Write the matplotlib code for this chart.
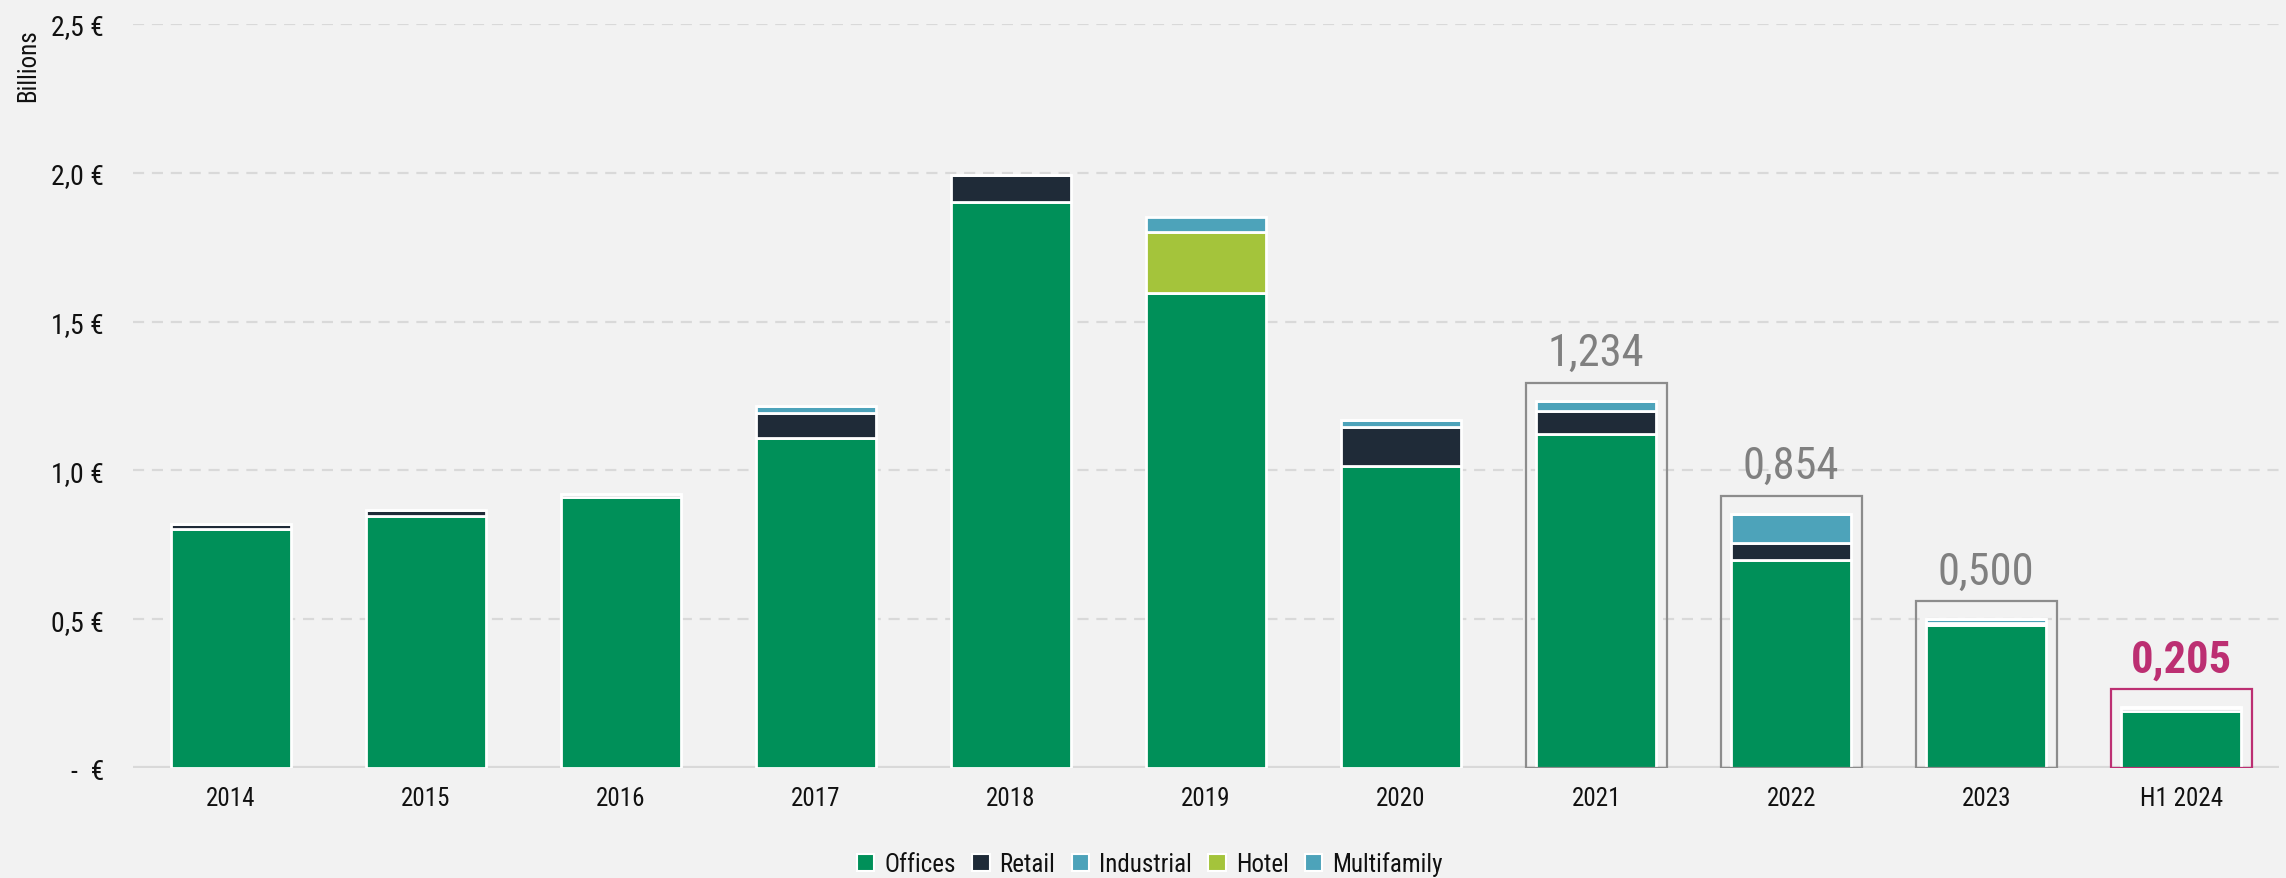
import matplotlib
matplotlib.use("Agg")
import matplotlib.pyplot as plt
from matplotlib.patches import Rectangle, Patch
from matplotlib import font_manager
import numpy as np

categories = ['2014', '2015', '2016', '2017', '2018', '2019', '2020', '2021', '2022', '2023', 'H1 2024']
offices = [0.803, 0.847, 0.910, 1.110, 1.902, 1.596, 1.015, 1.122, 0.700, 0.482, 0.190]
retail = [0.017, 0.020, 0.010, 0.083, 0.091, 0.000, 0.131, 0.078, 0.057, 0.006, 0.012]
industrial = [0.000, 0.000, 0.000, 0.023, 0.000, 0.000, 0.023, 0.034, 0.097, 0.012, 0.003]
hotel = [0.000, 0.000, 0.000, 0.000, 0.000, 0.205, 0.000, 0.000, 0.000, 0.000, 0.000]
multifamily = [0.000, 0.000, 0.000, 0.000, 0.000, 0.050, 0.000, 0.000, 0.000, 0.000, 0.000]

series_names = ['Offices', 'Retail', 'Industrial', 'Hotel', 'Multifamily']
series_colors = ['#009059', '#1F2B38', '#4DA3BA', '#A4C43B', '#4DA3BA']

total_labels = ['', '', '', '', '', '', '', '1,234', '0,854', '0,500', '0,205']
y_ticks = [0, 0.5, 1.0, 1.5, 2.0, 2.5]
y_tick_labels = ['-  €', '0,5 €', '1,0 €', '1,5 €', '2,0 €', '2,5 €']

BG = '#F2F2F2'

# pick a condensed font if one is installed
names = {f.name for f in font_manager.fontManager.ttflist}
stretch = 'normal'
family = 'DejaVu Sans'
for cand in ['Liberation Sans Narrow', 'Roboto Condensed', 'Open Sans Condensed', 'DejaVu Sans Condensed']:
    if cand in names:
        family = cand
        break
else:
    cond = [f for f in font_manager.fontManager.ttflist
            if str(f.stretch) in ('condensed', 'semi-condensed', 'extra-condensed', '75', '62.5', '87.5')
            or (isinstance(f.stretch, int) and f.stretch < 500)]
    pref = ['Roboto', 'Open Sans', 'Noto Sans', 'DejaVu Sans', 'Liberation Sans']
    for p in pref:
        hits = [f for f in cond if f.name == p]
        if hits:
            family = p
            stretch = 'condensed'
            break

plt.rcParams['font.family'] = [family, 'DejaVu Sans']
plt.rcParams['font.stretch'] = stretch

fig = plt.figure(figsize=(22.86, 8.79), dpi=100, facecolor=BG)
ax = fig.add_axes([0.0582, 0.1251, 0.9387, 0.8465])
ax.set_facecolor(BG)

x = np.arange(len(categories))
width = 0.615
bottom = np.zeros(len(categories))
for name, vals, col in zip(series_names, [offices, retail, industrial, hotel, multifamily], series_colors):
    v = np.array(vals)
    ax.bar(x, v, width, bottom=bottom, color=col, edgecolor='white', linewidth=2.0, zorder=3)
    bottom += v

totals = bottom
for i, lab in enumerate(total_labels):
    if not lab:
        continue
    hl = (i == len(categories) - 1)
    ec = '#BC2F72' if hl else '#8C8C8C'
    ax.add_patch(Rectangle((x[i] - 0.362, 0), 0.724, totals[i] + 0.06, fill=False,
                           edgecolor=ec, linewidth=1.6, zorder=4))
    ax.text(x[i], totals[i] + 0.12, lab, ha='center', va='baseline',
            fontsize=32, color='#BC2F72' if hl else '#808080',
            fontweight='bold' if hl else 'normal', zorder=5)

ax.set_xlim(-0.5, len(categories) - 0.5)
ax.set_ylim(0, 2.5)
for yv in y_ticks[1:]:
    ax.axhline(yv, color='#D9D9D9', linewidth=1.6, linestyle=(0, (5, 3.5)), zorder=1)
ax.axhline(0, color='#D9D9D9', linewidth=3, zorder=2)

ax.set_yticks(y_ticks)
ax.set_yticklabels(y_tick_labels, fontsize=20, color='#111111')
ax.set_xticks(x)
ax.set_xticklabels(categories, fontsize=18, color='#111111')
ax.tick_params(axis='both', length=0)
ax.tick_params(axis='y', pad=21)
ax.tick_params(axis='x', pad=13)
for s in ax.spines.values():
    s.set_visible(False)

fig.text(28 / 2286, 1 - 66 / 879, 'Billions', rotation=90, ha='center', va='center',
         fontsize=18, color='#111111')

handles = [Patch(facecolor=c, edgecolor='white', linewidth=1.5) for c in series_colors]
leg = fig.legend(handles, series_names, loc='center', bbox_to_anchor=(0.503, 0.016),
                 ncol=5, frameon=False, fontsize=18, handlelength=0.7, handleheight=0.7,
                 handletextpad=0.4, columnspacing=0.65)
for t in leg.get_texts():
    t.set_color('#111111')

fig.savefig('out.png', dpi=100, facecolor=BG)
